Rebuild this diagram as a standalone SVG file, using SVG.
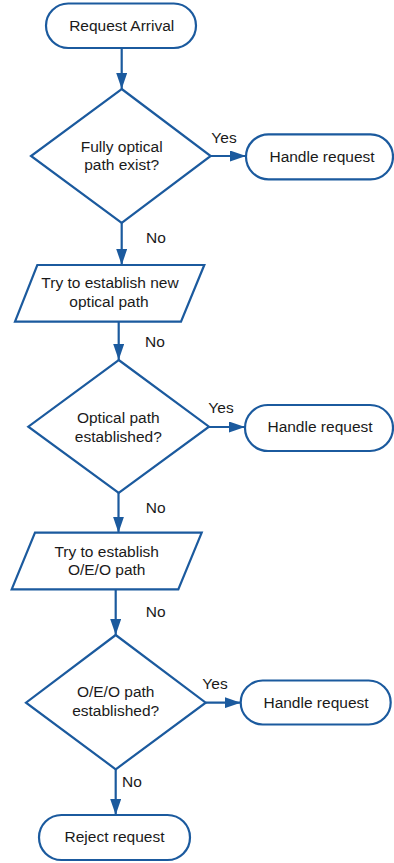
<svg xmlns="http://www.w3.org/2000/svg" width="394" height="863" viewBox="0 0 394 863">
<style>
.shape{fill:#ffffff;stroke:#1b5a9e;stroke-width:2.2;stroke-linejoin:miter}
.conn{fill:none;stroke:#1b5a9e;stroke-width:2.2}
text{font-family:"Liberation Sans",Arial,sans-serif;font-size:15.5px;fill:#1a1a1a;text-anchor:middle}
</style>
<defs>
<marker id="arr" viewBox="0 0 16 11" refX="16" refY="5.5" markerWidth="16" markerHeight="11" markerUnits="userSpaceOnUse" orient="auto">
<path d="M0,0 L16,5.5 L0,11 z" fill="#1b5a9e"/>
</marker>
</defs>
<rect width="394" height="863" fill="#ffffff"/>
<g id="connectors">
<line class="conn" x1="121.7" y1="48" x2="121.7" y2="89" marker-end="url(#arr)"/>
<line class="conn" x1="210.7" y1="156" x2="246" y2="156" marker-end="url(#arr)"/>
<line class="conn" x1="121.7" y1="223" x2="121.7" y2="265" marker-end="url(#arr)"/>
<line class="conn" x1="118.7" y1="321.7" x2="118.7" y2="360" marker-end="url(#arr)"/>
<line class="conn" x1="209" y1="427" x2="245" y2="427" marker-end="url(#arr)"/>
<line class="conn" x1="118.5" y1="493" x2="118.5" y2="532.7" marker-end="url(#arr)"/>
<line class="conn" x1="115.7" y1="589.3" x2="115.7" y2="635" marker-end="url(#arr)"/>
<line class="conn" x1="205.7" y1="702.7" x2="240.7" y2="702.7" marker-end="url(#arr)"/>
<line class="conn" x1="115.7" y1="769.3" x2="115.7" y2="815" marker-end="url(#arr)"/>
<text x="224" y="143">Yes</text>
<text x="156" y="243">No</text>
<text x="155" y="346.7">No</text>
<text x="221" y="413">Yes</text>
<text x="155.7" y="513.3">No</text>
<text x="155.7" y="616.7">No</text>
<text x="215" y="689">Yes</text>
<text x="132" y="787.3">No</text>
</g>
<g id="start">
<rect class="shape" x="46" y="3.5" width="150" height="44.5" rx="22.2"/>
<text x="121.7" y="31">Request Arrival</text>
</g>
<g id="decision1">
<polygon class="shape" points="121.7,89 210.7,156 121.7,223 31,156"/>
<text x="121.7" y="151.7">Fully optical</text>
<text x="121.7" y="170">path exist?</text>
</g>
<g id="handle1">
<rect class="shape" x="246" y="134.3" width="147" height="45" rx="22.5"/>
<text x="322" y="161.7">Handle request</text>
</g>
<g id="try1">
<polygon class="shape" points="37.3,265 204.3,265 181,321.7 15,321.7"/>
<text x="110" y="288.3">Try to establish new</text>
<text x="109" y="306.7">optical path</text>
</g>
<g id="decision2">
<polygon class="shape" points="118.7,360 209,426.7 118.7,493 28.3,426.7"/>
<text x="118.3" y="422.7">Optical path</text>
<text x="118.3" y="441.7">established?</text>
</g>
<g id="handle2">
<rect class="shape" x="245" y="405" width="148" height="46" rx="23"/>
<text x="320" y="431.7">Handle request</text>
</g>
<g id="try2">
<polygon class="shape" points="35,532.7 201.7,532.7 178.3,589.3 11.7,589.3"/>
<text x="106.7" y="556.7">Try to establish</text>
<text x="106.7" y="575">O/E/O path</text>
</g>
<g id="decision3">
<polygon class="shape" points="115.7,635 205.7,702.7 115.7,769.3 26,702.7"/>
<text x="115.7" y="697.3">O/E/O path</text>
<text x="115.7" y="716">established?</text>
</g>
<g id="handle3">
<rect class="shape" x="240.7" y="680.5" width="150" height="44" rx="22"/>
<text x="316" y="708.3">Handle request</text>
</g>
<g id="reject">
<rect class="shape" x="39" y="815" width="151" height="45" rx="22.5"/>
<text x="114.5" y="842.3">Reject request</text>
</g>
</svg>
